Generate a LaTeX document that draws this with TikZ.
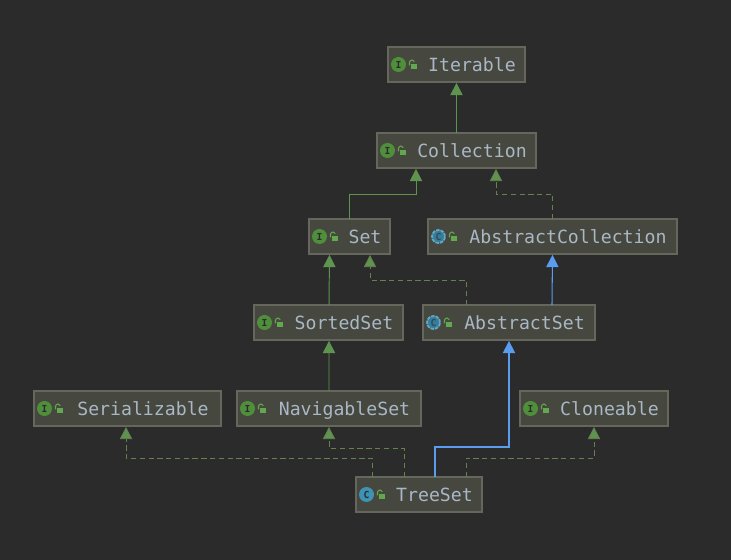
\documentclass[tikz,border=0pt]{standalone}
\usepackage{fontspec}
\setmonofont{DejaVu Sans Mono}
\usetikzlibrary{arrows.meta, calc}

\definecolor{bgdark}{HTML}{2B2B2B}
\definecolor{boxfill}{HTML}{46473E}
\definecolor{boxline}{HTML}{65675D}
\definecolor{nametext}{HTML}{A9B7C6}
\definecolor{inhgreen}{HTML}{5F9450}
\definecolor{dashgreen}{HTML}{66804F}
\definecolor{implblue}{HTML}{5A9CF0}
\definecolor{ifacegreen}{HTML}{4F8F3C}
\definecolor{classteal}{HTML}{3E93B5}
\definecolor{lockgreen}{HTML}{62A84E}

\tikzset{
  umlbox/.style={draw=boxline, fill=boxfill, line width=0.6pt, minimum height=35*0.02cm, outer sep=0pt, inner sep=0pt},
  umlname/.style={anchor=base, inner sep=0pt, text=nametext, font=\fontsize{10.35}{12}\ttfamily},
  iconletter/.style={inner sep=0pt, text=bgdark, font=\fontsize{5.5}{6}\ttfamily\bfseries},
  inherit/.style={draw=inhgreen, line width=0.55pt, -{Triangle[length=7pt, width=7pt, fill=inhgreen]}, shorten >=0.5pt},
  implement/.style={draw=dashgreen, line width=0.5pt, dash pattern=on 3pt off 2pt, -{Triangle[length=7pt, width=7pt, fill=inhgreen]}, shorten >=0.5pt},
  extendblue/.style={draw=implblue, line width=0.6pt, -{Triangle[length=7pt, width=7pt, fill=implblue]}, shorten >=0.5pt}
}

% name, left edge, centre y, width, text
\newcommand{\umlframe}[5]{
  \node[umlbox, minimum width=#4*0.02cm] (#1) at (#2+#4/2,#3) {};
  \node[umlname] (#1name) at (#2+#4/2+15.5,#3+7.5) {#5};
  \fill[lockgreen] (#2+23,#3-0.5) rectangle (#2+29,#3+4.5);
  \draw[lockgreen, line width=0.6pt] (#2+21.5,#3+1) -- (#2+21.5,#3-2) arc[start angle=180, end angle=340, radius=2.5];
}
\newcommand{\ifacenode}[5]{
  \umlframe{#1}{#2}{#3}{#4}{#5}
  \node[circle, fill=ifacegreen, minimum size=15*0.02cm, inner sep=0pt] (#1icon) at (#2+10.5,#3) {};
  \node[iconletter] (#1letter) at (#1icon) {I};
}
\newcommand{\abstractnode}[5]{
  \umlframe{#1}{#2}{#3}{#4}{#5}
  \node[circle, draw=classteal!80!white, fill=classteal!85!black, line width=1pt, dash pattern=on 2pt off 0.6pt, minimum size=13*0.02cm, inner sep=0pt] (#1icon) at (#2+10.5,#3) {};
  \node[iconletter, text=bgdark!70!classteal] (#1letter) at (#1icon) {C};
}
\newcommand{\classnode}[5]{
  \umlframe{#1}{#2}{#3}{#4}{#5}
  \node[circle, fill=classteal, minimum size=15*0.02cm, inner sep=0pt] (#1icon) at (#2+10.5,#3) {};
  \node[iconletter] (#1letter) at (#1icon) {C};
}

\begin{document}
\begin{tikzpicture}[x=0.02cm, y=-0.02cm]
\fill[bgdark] (0,0) rectangle (731,560);
\useasboundingbox (0,0) rectangle (731,560);

\ifacenode{iterable}{388}{64.5}{137}{Iterable}
\ifacenode{collection}{377}{150.5}{159}{Collection}
\ifacenode{set}{309}{236.5}{81}{Set}
\abstractnode{abstractcollection}{428}{236.5}{249}{AbstractCollection}
\ifacenode{sortedset}{254}{322.5}{149}{SortedSet}
\abstractnode{abstractset}{423}{322.5}{172}{AbstractSet}
\ifacenode{serializable}{34}{408.5}{187}{Serializable}
\ifacenode{navigableset}{237}{408.5}{184}{NavigableSet}
\ifacenode{cloneable}{520}{408.5}{148}{Cloneable}
\classnode{treeset}{356}{494.5}{126}{TreeSet}

\draw[inherit] (collection.north) -- (iterable.south);
\draw[inherit] (set.north) -- ++(0,-25) -| ($(collection.south)+(-40.5,0)$);
\draw[implement] (abstractcollection.north) -- ++(0,-25) -| ($(collection.south)+(39.5,0)$);
\draw[inherit] ($(sortedset.north)+(0.5,0)$) -- ($(set.south)+(-20,0)$);
\draw[implement] ($(abstractset.north)+(-43,0)$) -- ++(0,-25) -| ($(set.south)+(20.5,0)$);
\draw[extendblue] ($(abstractset.north)+(43,0)$) -- (abstractcollection.south);
\draw[inherit] ($(navigableset.north)+(0,0)$) -- ($(sortedset.south)+(0.5,0)$);
\draw[extendblue] ($(treeset.north)+(16,0)$) -- ++(0,-30) -| (abstractset.south);
\draw[implement] ($(treeset.north)+(-15,0)$) -- ++(0,-29) -| (navigableset.south);
\draw[implement] ($(treeset.north)+(-47,0)$) -- ++(0,-19) -| ($(serializable.south)+(-1.5,0)$);
\draw[implement] ($(treeset.north)+(47,0)$) -- ++(0,-19) -| (cloneable.south);
\end{tikzpicture}
\end{document}
